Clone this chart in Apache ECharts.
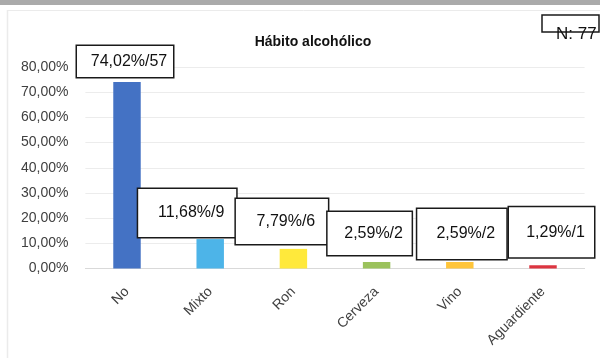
<!DOCTYPE html>
<html>
<head>
<meta charset="utf-8">
<script src="https://cdn.jsdelivr.net/npm/echarts@6/dist/echarts.min.js"></script>
<style>html,body{margin:0;padding:0;background:#fff;}#c{width:600px;height:358px;}</style>
</head>
<body>
<div id="c"></div>
<script>
const categories = ['No', 'Mixto', 'Ron', 'Cerveza', 'Vino', 'Aguardiente'];
const percents = [74.02, 11.68, 7.79, 2.59, 2.59, 1.29];
const counts = [57, 9, 6, 2, 2, 1];
const yTicks = [0, 10, 20, 30, 40, 50, 60, 70, 80];
const totalN = 77;
const colors = ['#4472C4', '#4DB4E8', '#FFE93B', '#9BC25C', '#FFC53A', '#DC3540'];
// label box styling (width, height, horizontal offset, gap above bar)
const boxStyle = [
  {w: 96, h: 31, dx: -2, gap: 5},
  {w: 98, h: 48, dx: -23, gap: 2},
  {w: 92, h: 45, dx: -11.5, gap: 5},
  {w: 84, h: 43, dx: -7, gap: 7},
  {w: 89, h: 50, dx: 2, gap: 3},
  {w: 85, h: 50, dx: 8.5, gap: 8}
];

function fmt(v) { return v.toFixed(2).replace('.', ',') + '%'; }

const chart = echarts.init(document.getElementById('c'), null, {renderer: 'canvas'});
const data = percents.map((v, i) => {
  const b = boxStyle[i];
  const padL = 8;
  return {
    value: v,
    itemStyle: {color: colors[i]},
    label: {
      show: true,
      position: 'top',
      distance: 0,
      offset: [b.dx, -b.gap],
      formatter: fmt(v) + '/' + counts[i],
      width: b.w - padL,
      height: b.h,
      lineHeight: b.h,
      padding: [0, 0, 0, padL],
      align: 'center',
      backgroundColor: '#fff',
      borderColor: '#1a1a1a',
      borderWidth: 1.5,
      color: '#111',
      fontSize: 16,
      fontFamily: 'Liberation Sans'
    }
  };
});

chart.setOption({
  animation: false,
  backgroundColor: '#fff',
  title: {
    text: 'Hábito alcohólico',
    left: 308,
    top: 30,
    textAlign: 'center',
    textStyle: {fontSize: 14, fontWeight: 'bold', color: '#111', fontFamily: 'Liberation Sans'}
  },
  grid: {left: 85.4, right: 15.4, top: 67, bottom: 89.5, containLabel: false},
  xAxis: {
    type: 'category',
    data: categories,
    axisLine: {lineStyle: {color: '#d9d9d9', width: 1}},
    axisTick: {show: false},
    axisLabel: {rotate: 45, margin: 21, fontSize: 14, color: '#404040', fontFamily: 'Liberation Sans'}
  },
  yAxis: {
    type: 'value',
    min: yTicks[0],
    max: yTicks[yTicks.length - 1],
    interval: 10,
    axisLine: {show: false},
    axisTick: {show: false},
    splitLine: {lineStyle: {color: '#ececec', width: 1}},
    axisLabel: {formatter: v => fmt(v), fontSize: 14, margin: 17, color: '#404040', fontFamily: 'Liberation Sans'}
  },
  series: [{
    type: 'bar',
    data: data,
    barWidth: '33%',
    z: 2
  }],
  graphic: [
    {type: 'rect', shape: {x: 0, y: 0, width: 600, height: 5}, style: {fill: '#aaaaaa'}, silent: true},
    {type: 'line', shape: {x1: 7, y1: 10.5, x2: 600, y2: 10.5}, style: {stroke: '#ebebeb', lineWidth: 1}, silent: true},
    {type: 'line', shape: {x1: 7.5, y1: 10, x2: 7.5, y2: 358}, style: {stroke: '#ebebeb', lineWidth: 1.5}, silent: true},
    {type: 'rect', shape: {x: 542, y: 15, width: 57, height: 17}, style: {fill: 'none', stroke: '#1a1a1a', lineWidth: 1.5}, silent: true},
    {type: 'text', x: 556, y: 34, style: {text: 'N: ' + totalN, fontSize: 17, fill: '#111', verticalAlign: 'middle', fontFamily: 'Liberation Sans'}, silent: true}
  ]
});
</script>
</body>
</html>
